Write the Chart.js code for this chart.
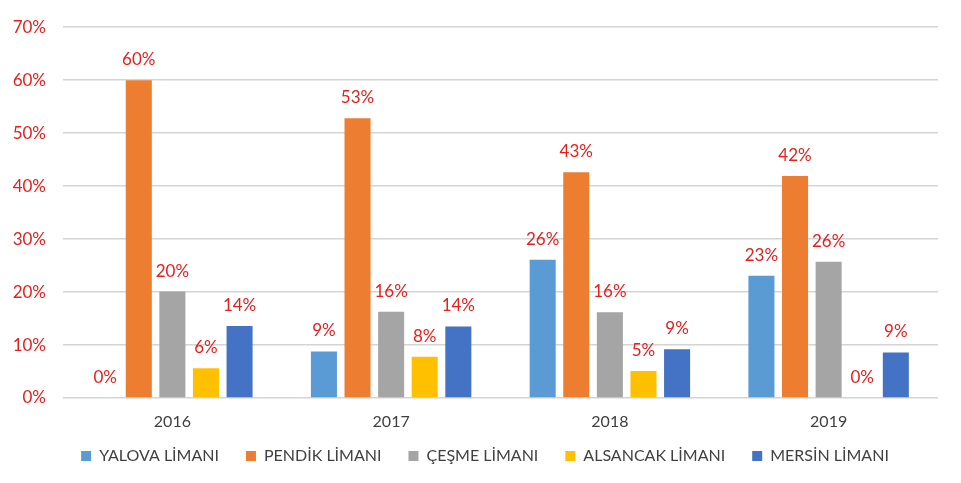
<!DOCTYPE html>
<html>
<head>
<meta charset="utf-8">
<script src="https://cdn.jsdelivr.net/npm/chart.js@4"></script>
<style>
  html, body { margin: 0; padding: 0; background: #fff; }
  #wrap { width: 961px; height: 483px; }
</style>
</head>
<body>
<div id="wrap"><canvas id="chart" width="961" height="483"></canvas></div>
<script>
const years = ['2016', '2017', '2018', '2019'];
const yalova = [0, 8.8, 26.1, 23.1];
const pendik = [60.0, 52.8, 42.6, 41.9];
const cesme = [20.1, 16.3, 16.2, 25.7];
const alsancak = [5.6, 7.8, 5.1, 0];
const mersin = [13.6, 13.5, 9.2, 8.6];
const yTicks = [0, 10, 20, 30, 40, 50, 60, 70];

const red = '#e4201e';
const font = 'Lato, "Open Sans", sans-serif';

// red % labels above each bar
const barLabels = {
  id: 'barLabels',
  afterDatasetsDraw(chart) {
    const ctx = chart.ctx;
    ctx.save();
    ctx.font = '17px ' + font;
    ctx.fillStyle = red;
    ctx.textAlign = 'center';
    ctx.textBaseline = 'alphabetic';
    chart.data.datasets.forEach((ds, i) => {
      chart.getDatasetMeta(i).data.forEach((bar, j) => {
        ctx.fillText(Math.round(ds.data[j]) + '%', bar.x, bar.y - 15);
      });
    });
    ctx.restore();
  }
};

// nudge the legend row up and to the right
const legendShift = {
  id: 'legendShift',
  afterLayout(chart) {
    const lg = chart.legend;
    lg.top -= 12;
    lg.bottom -= 12;
    lg.left += 16;
    lg.right += 16;
  }
};

function series(label, data, color) {
  return { label, data, backgroundColor: color, borderWidth: 0 };
}

new Chart(document.getElementById('chart'), {
  type: 'bar',
  data: {
    labels: years,
    datasets: [
      series('YALOVA LİMANI', yalova, '#5b9bd5'),
      series('PENDİK LİMANI', pendik, '#ed7d31'),
      series('ÇEŞME LİMANI', cesme, '#a5a5a5'),
      series('ALSANCAK LİMANI', alsancak, '#ffc000'),
      series('MERSİN LİMANI', mersin, '#4472c4')
    ]
  },
  options: {
    responsive: false,
    animation: false,
    devicePixelRatio: 1,
    categoryPercentage: 0.768,
    barPercentage: 0.775,
    layout: { autoPadding: false, padding: { top: 23, left: 0, right: 23, bottom: 0 } },
    plugins: {
      tooltip: { enabled: false },
      legend: {
        position: 'bottom',
        maxHeight: 50,
        labels: {
          boxWidth: 10,
          boxHeight: 10,
          padding: 27,
          color: '#404040',
          font: { family: font, size: 16 }
        }
      }
    },
    scales: {
      x: {
        grid: { display: false, drawTicks: false },
        border: { display: false },
        ticks: { color: '#404040', padding: 14, font: { family: font, size: 16 } },
        afterFit: s => { s.height = 35; }
      },
      y: {
        min: 0,
        max: 70,
        afterBuildTicks: s => { s.ticks = yTicks.map(v => ({ value: v })); },
        afterFit: s => { s.width = 63; },
        border: { display: false },
        grid: { color: '#d4d4d4', lineWidth: 1.5, drawTicks: false },
        ticks: {
          color: red,
          padding: 17,
          font: { family: font, size: 17 },
          callback: v => v + '%'
        }
      }
    }
  },
  plugins: [barLabels, legendShift]
});
</script>
</body>
</html>
